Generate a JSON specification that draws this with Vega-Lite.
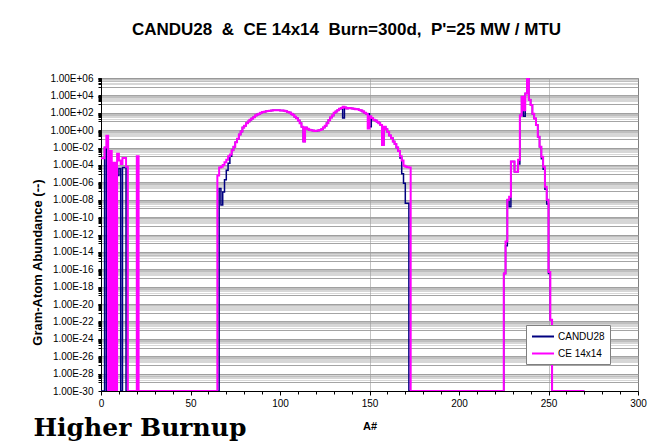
{
  "$schema": "https://vega.github.io/schema/vega-lite/v6.json",
  "width": 537,
  "height": 313,
  "autosize": "none",
  "padding": {"left": 101, "top": 78, "right": 33, "bottom": 54},
  "background": "white",
  "title": {
    "text": "CANDU28\u00a0\u00a0&\u00a0\u00a0CE 14x14\u00a0\u00a0Burn=300d,\u00a0\u00a0P'=25 MW / MTU",
    "font": "Liberation Sans",
    "fontSize": 17,
    "fontWeight": "bold",
    "color": "black",
    "anchor": "middle",
    "dx": -23,
    "offset": 34
  },
  "datasets": {
    "candu": [
      {"A":0,"v":1e-30},{"A":1,"v":1e-30},{"A":2,"v":1e-2},{"A":3,"v":1e-30},{"A":4,"v":1e-30},{"A":5,"v":2.5e-5},{"A":6,"v":1e-10},{"A":7,"v":1e-30},{"A":8,"v":2.5e-5},{"A":9,"v":6.3e-6},{"A":10,"v":4e-5},{"A":11,"v":1e-30},{"A":12,"v":5e-5},{"A":13,"v":5e-5},{"A":14,"v":1e-30},
      {"A":65,"v":1e-30},{"A":66,"v":2e-7},{"A":67,"v":2.5e-9},{"A":68,"v":7.9e-8},{"A":69,"v":2e-6},{"A":70,"v":2.5e-5},{"A":71,"v":1.6e-4},{"A":72,"v":1e-3},
      {"A":73,"v":5e-3},{"A":74,"v":1.26e-2},{"A":75,"v":4e-2},{"A":76,"v":0.1},{"A":77,"v":0.32},{"A":78,"v":0.71},{"A":79,"v":2},{"A":80,"v":3.2},{"A":81,"v":6.3},{"A":82,"v":10},{"A":83,"v":15.8},{"A":84,"v":22.4},{"A":85,"v":31.6},{"A":86,"v":50},{"A":87,"v":63},{"A":88,"v":79},{"A":89,"v":100},{"A":90,"v":120},{"A":91,"v":132},{"A":92,"v":151},{"A":93,"v":158},{"A":94,"v":174},{"A":95,"v":182},{"A":96,"v":190},{"A":97,"v":200},{"A":98,"v":190},{"A":99,"v":190},{"A":100,"v":186},{"A":101,"v":178},{"A":102,"v":166},{"A":103,"v":151},{"A":104,"v":126},{"A":105,"v":105},{"A":106,"v":79},{"A":107,"v":56},{"A":108,"v":35},{"A":109,"v":24},{"A":110,"v":12.6},{"A":111,"v":6.3},{"A":112,"v":2.5},{"A":113,"v":0.05},{"A":114,"v":2},{"A":115,"v":1.41},{"A":116,"v":1.12},{"A":117,"v":1},{"A":118,"v":0.89},{"A":119,"v":0.79},{"A":120,"v":0.83},{"A":121,"v":0.89},{"A":122,"v":1.05},{"A":123,"v":1.26},{"A":124,"v":2},{"A":125,"v":3.2},{"A":126,"v":6.3},{"A":127,"v":14},{"A":128,"v":28},{"A":129,"v":50},{"A":130,"v":100},{"A":131,"v":141},{"A":132,"v":200},{"A":133,"v":282},{"A":134,"v":355},{"A":135,"v":25},{"A":136,"v":398},{"A":137,"v":316},{"A":138,"v":355},{"A":139,"v":331},{"A":140,"v":316},{"A":141,"v":282},{"A":142,"v":263},{"A":143,"v":251},{"A":144,"v":209},{"A":145,"v":178},{"A":146,"v":141},{"A":147,"v":100},{"A":148,"v":79},{"A":149,"v":79},{"A":150,"v":2.5},{"A":151,"v":25},{"A":152,"v":15.8},{"A":153,"v":12.6},{"A":154,"v":9.3},{"A":155,"v":6.3},{"A":156,"v":4},{"A":157,"v":0.02},{"A":158,"v":2.5},{"A":159,"v":1.26},{"A":160,"v":0.63},{"A":161,"v":0.25},{"A":162,"v":0.126},{"A":163,"v":0.05},{"A":164,"v":0.025},{"A":165,"v":0.01},{"A":166,"v":4e-3},{"A":167,"v":6.3e-4},{"A":168,"v":1e-5},{"A":169,"v":7.9e-7},{"A":170,"v":4e-9},{"A":171,"v":4e-9},{"A":172,"v":1e-30},
      {"A":224,"v":1e-30},{"A":225,"v":3.2e-17},{"A":226,"v":5e-14},{"A":227,"v":1e-8},{"A":228,"v":1.6e-9},{"A":229,"v":2.5e-4},{"A":230,"v":2.5e-4},{"A":231,"v":1.6e-5},{"A":232,"v":1.6e-5},{"A":233,"v":1.26e-4},{"A":234,"v":50},{"A":235,"v":7100},{"A":236,"v":40},{"A":237,"v":16000},{"A":238,"v":1.2e6},{"A":239,"v":3200},{"A":240,"v":790},{"A":241,"v":79},{"A":242,"v":22},{"A":243,"v":4},{"A":244,"v":0.18},{"A":245,"v":0.0126},{"A":246,"v":5e-4},{"A":247,"v":3.2e-5},{"A":248,"v":1.6e-7},{"A":249,"v":3.2e-9},{"A":250,"v":3.2e-17},{"A":251,"v":1.6e-22},{"A":252,"v":1e-30},{"A":270,"v":1e-30}
    ],
    "ce": [
      {"A":0,"v":5.8e-4},{"A":1,"v":5.8e-4},{"A":2,"v":1e-2},{"A":3,"v":0.23},{"A":4,"v":1e-30},{"A":5,"v":4e-3},{"A":6,"v":1e-30},{"A":7,"v":1.8e-4},{"A":8,"v":1e-30},{"A":9,"v":2e-3},{"A":10,"v":3.2e-4},{"A":11,"v":1.3e-4},{"A":12,"v":6.3e-4},{"A":13,"v":6.3e-4},{"A":14,"v":6.3e-5},{"A":15,"v":1e-30},{"A":20,"v":1e-3},{"A":21,"v":1e-30},
      {"A":64,"v":1e-30},{"A":65,"v":6.3e-6},{"A":66,"v":5e-5},{"A":67,"v":6.3e-5},{"A":68,"v":1e-4},{"A":69,"v":2e-4},{"A":70,"v":4e-4},{"A":71,"v":1e-3},{"A":72,"v":1.6e-3},
      {"A":73,"v":5e-3},{"A":74,"v":1.26e-2},{"A":75,"v":4e-2},{"A":76,"v":0.1},{"A":77,"v":0.32},{"A":78,"v":0.71},{"A":79,"v":2},{"A":80,"v":3.2},{"A":81,"v":6.3},{"A":82,"v":10},{"A":83,"v":15.8},{"A":84,"v":22.4},{"A":85,"v":31.6},{"A":86,"v":50},{"A":87,"v":63},{"A":88,"v":79},{"A":89,"v":100},{"A":90,"v":120},{"A":91,"v":132},{"A":92,"v":151},{"A":93,"v":158},{"A":94,"v":174},{"A":95,"v":182},{"A":96,"v":190},{"A":97,"v":200},{"A":98,"v":190},{"A":99,"v":190},{"A":100,"v":186},{"A":101,"v":178},{"A":102,"v":166},{"A":103,"v":151},{"A":104,"v":126},{"A":105,"v":105},{"A":106,"v":79},{"A":107,"v":56},{"A":108,"v":35},{"A":109,"v":24},{"A":110,"v":12.6},{"A":111,"v":6.3},{"A":112,"v":2.5},{"A":113,"v":0.05},{"A":114,"v":2},{"A":115,"v":1.41},{"A":116,"v":1.12},{"A":117,"v":1},{"A":118,"v":0.89},{"A":119,"v":0.79},{"A":120,"v":0.83},{"A":121,"v":0.89},{"A":122,"v":1.05},{"A":123,"v":1.26},{"A":124,"v":2},{"A":125,"v":3.2},{"A":126,"v":6.3},{"A":127,"v":14},{"A":128,"v":28},{"A":129,"v":50},{"A":130,"v":100},{"A":131,"v":141},{"A":132,"v":200},{"A":133,"v":282},{"A":134,"v":355},{"A":135,"v":501},{"A":136,"v":398},{"A":137,"v":316},{"A":138,"v":355},{"A":139,"v":331},{"A":140,"v":316},{"A":141,"v":282},{"A":142,"v":263},{"A":143,"v":251},{"A":144,"v":209},{"A":145,"v":178},{"A":146,"v":141},{"A":147,"v":100},{"A":148,"v":79},{"A":149,"v":1.58},{"A":150,"v":40},{"A":151,"v":25},{"A":152,"v":15.8},{"A":153,"v":12.6},{"A":154,"v":9.3},{"A":155,"v":6.3},{"A":156,"v":4},{"A":157,"v":0.02},{"A":158,"v":2.5},{"A":159,"v":1.26},{"A":160,"v":0.63},{"A":161,"v":0.25},{"A":162,"v":0.126},{"A":163,"v":0.05},{"A":164,"v":0.025},{"A":165,"v":0.01},{"A":166,"v":4e-3},{"A":167,"v":1e-3},{"A":168,"v":3.2e-4},{"A":169,"v":7.9e-5},{"A":170,"v":6.3e-5},{"A":171,"v":5.6e-5},{"A":172,"v":5e-5},{"A":173,"v":1e-30},
      {"A":224,"v":1e-30},{"A":225,"v":3.2e-17},{"A":226,"v":1.6e-13},{"A":227,"v":1e-8},{"A":228,"v":2.2e-8},{"A":229,"v":2.5e-4},{"A":230,"v":2.5e-4},{"A":231,"v":1.6e-5},{"A":232,"v":1.6e-5},{"A":233,"v":4e-4},{"A":234,"v":50},{"A":235,"v":7100},{"A":236,"v":200},{"A":237,"v":16000},{"A":238,"v":1.2e6},{"A":239,"v":3200},{"A":240,"v":790},{"A":241,"v":79},{"A":242,"v":22},{"A":243,"v":4},{"A":244,"v":0.18},{"A":245,"v":0.0126},{"A":246,"v":8.9e-4},{"A":247,"v":6.3e-5},{"A":248,"v":3.2e-7},{"A":249,"v":1e-8},{"A":250,"v":5e-17},{"A":251,"v":1.6e-22},{"A":252,"v":1e-30},{"A":270,"v":1e-30}
    ]
  },
  "encoding": {
    "y": {
      "field": "v",
      "type": "quantitative",
      "scale": {"type": "log", "domain": [1e-30, 1e6], "nice": false},
      "axis": {
        "values": [1e-30,1e-28,1e-26,1e-24,1e-22,1e-20,1e-18,1e-16,1e-14,1e-12,1e-10,1e-8,1e-6,1e-4,1e-2,1,100,10000,1000000,
          1e-29,2e-29,3e-29,4e-29,5e-29,6e-29,7e-29,8e-29,9e-29,
          1e-27,2e-27,3e-27,4e-27,5e-27,6e-27,7e-27,8e-27,9e-27,
          1e-25,2e-25,3e-25,4e-25,5e-25,6e-25,7e-25,8e-25,9e-25,
          1e-23,2e-23,3e-23,4e-23,5e-23,6e-23,7e-23,8e-23,9e-23,
          1e-21,2e-21,3e-21,4e-21,5e-21,6e-21,7e-21,8e-21,9e-21,
          1e-19,2e-19,3e-19,4e-19,5e-19,6e-19,7e-19,8e-19,9e-19,
          1e-17,2e-17,3e-17,4e-17,5e-17,6e-17,7e-17,8e-17,9e-17,
          1e-15,2e-15,3e-15,4e-15,5e-15,6e-15,7e-15,8e-15,9e-15,
          1e-13,2e-13,3e-13,4e-13,5e-13,6e-13,7e-13,8e-13,9e-13,
          1e-11,2e-11,3e-11,4e-11,5e-11,6e-11,7e-11,8e-11,9e-11,
          1e-9,2e-9,3e-9,4e-9,5e-9,6e-9,7e-9,8e-9,9e-9,
          1e-7,2e-7,3e-7,4e-7,5e-7,6e-7,7e-7,8e-7,9e-7,
          1e-5,2e-5,3e-5,4e-5,5e-5,6e-5,7e-5,8e-5,9e-5,
          1e-3,2e-3,3e-3,4e-3,5e-3,6e-3,7e-3,8e-3,9e-3,
          0.1,0.2,0.3,0.4,0.5,0.6,0.7,0.8,0.9,
          10,20,30,40,50,60,70,80,90,
          1000,2000,3000,4000,5000,6000,7000,8000,9000,
          100000,200000,300000,400000,500000,600000,700000,800000,900000],
        "labelExpr": "abs(log(datum.value)/LN10 - 2*round(log(datum.value)/LN10/2)) < 0.01 ? ('1.00E' + (datum.value < 0.5 ? '-' : '+') + (abs(round(log(datum.value)/LN10)) < 10 ? '0' : '') + abs(round(log(datum.value)/LN10))) : ''",
        "labelOverlap": false,
        "labelBound": false,
        "labelPadding": 5,
        "tickSize": 3,
        "grid": true,
        "gridColor": "#9a9a9a",
        "gridWidth": 1,
        "gridOpacity": {"condition": {"test": "abs(log(datum.value)/LN10 - round(log(datum.value)/LN10)) < 0.01", "value": 0.9}, "value": 0.4},
        "title": "Gram-Atom Abundance (--)",
        "titleFontSize": 13,
        "titleX": -64,
        "titleY": 184,
        "titleAngle": 270,
        "titleAlign": "center",
        "titleBaseline": "middle"
      }
    }
  },
  "layer": [
    {
      "data": {"name": "candu"},
      "mark": {"type": "line", "interpolate": "step-after", "clip": true, "strokeWidth": 1.5},
      "encoding": {
        "x": {
          "field": "A",
          "type": "quantitative",
          "scale": {"domain": [0, 300], "nice": false},
          "axis": {
            "values": [0, 50, 100, 150, 200, 250, 300],
            "format": "d",
            "labelFlush": false,
            "tickSize": 4,
            "labelPadding": 3,
            "grid": true,
            "gridColor": "#c4c4c4",
            "gridOpacity": {"condition": {"test": "datum.value == 150 || datum.value == 250", "value": 1}, "value": 0},
            "title": "A#",
            "titlePadding": 12
          }
        },
        "color": {
          "datum": "CANDU28",
          "type": "nominal",
          "scale": {"domain": ["CANDU28", "CE 14x14"], "range": ["#000080", "#ff00ff"]},
          "legend": {
            "title": null,
            "orient": "none",
            "legendX": 425,
            "legendY": 247,
            "symbolType": "M-1,0H3",
            "symbolSize": 121,
            "symbolStrokeWidth": 2,
            "labelFontSize": 10,
            "labelOffset": 14,
            "rowPadding": 5,
            "padding": 5,
            "strokeColor": "#808080",
            "fillColor": "white"
          }
        }
      }
    },
    {
      "data": {"name": "ce"},
      "mark": {"type": "line", "interpolate": "step-after", "clip": true, "strokeWidth": 2},
      "encoding": {
        "x": {
          "field": "A",
          "type": "quantitative",
          "axis": {
            "orient": "bottom",
            "values": [10,20,30,40,60,70,80,90,110,120,130,140,160,170,180,190,210,220,230,240,260,270,280,290],
            "labels": false,
            "domain": false,
            "grid": false,
            "tickSize": 3,
            "title": "Higher Burnup",
            "titleX": -68,
            "titleY": 44,
            "titleAlign": "left",
            "titleBaseline": "alphabetic",
            "titleFont": "DejaVu Serif",
            "titleFontSize": 25,
            "titleFontWeight": "bold"
          }
        },
        "color": {"datum": "CE 14x14", "type": "nominal"}
      }
    }
  ],
  "resolve": {"axis": {"x": "independent"}},
  "config": {
    "font": "Liberation Sans",
    "view": {"stroke": "#808080", "strokeWidth": 1},
    "axis": {
      "labelFont": "Liberation Sans",
      "labelFontSize": 10,
      "labelColor": "black",
      "domainColor": "black",
      "tickColor": "black",
      "titleFont": "Liberation Sans",
      "titleFontSize": 11,
      "titleFontWeight": "bold",
      "titleColor": "black"
    },
    "legend": {"labelFont": "Liberation Sans", "labelColor": "black"}
  }
}
